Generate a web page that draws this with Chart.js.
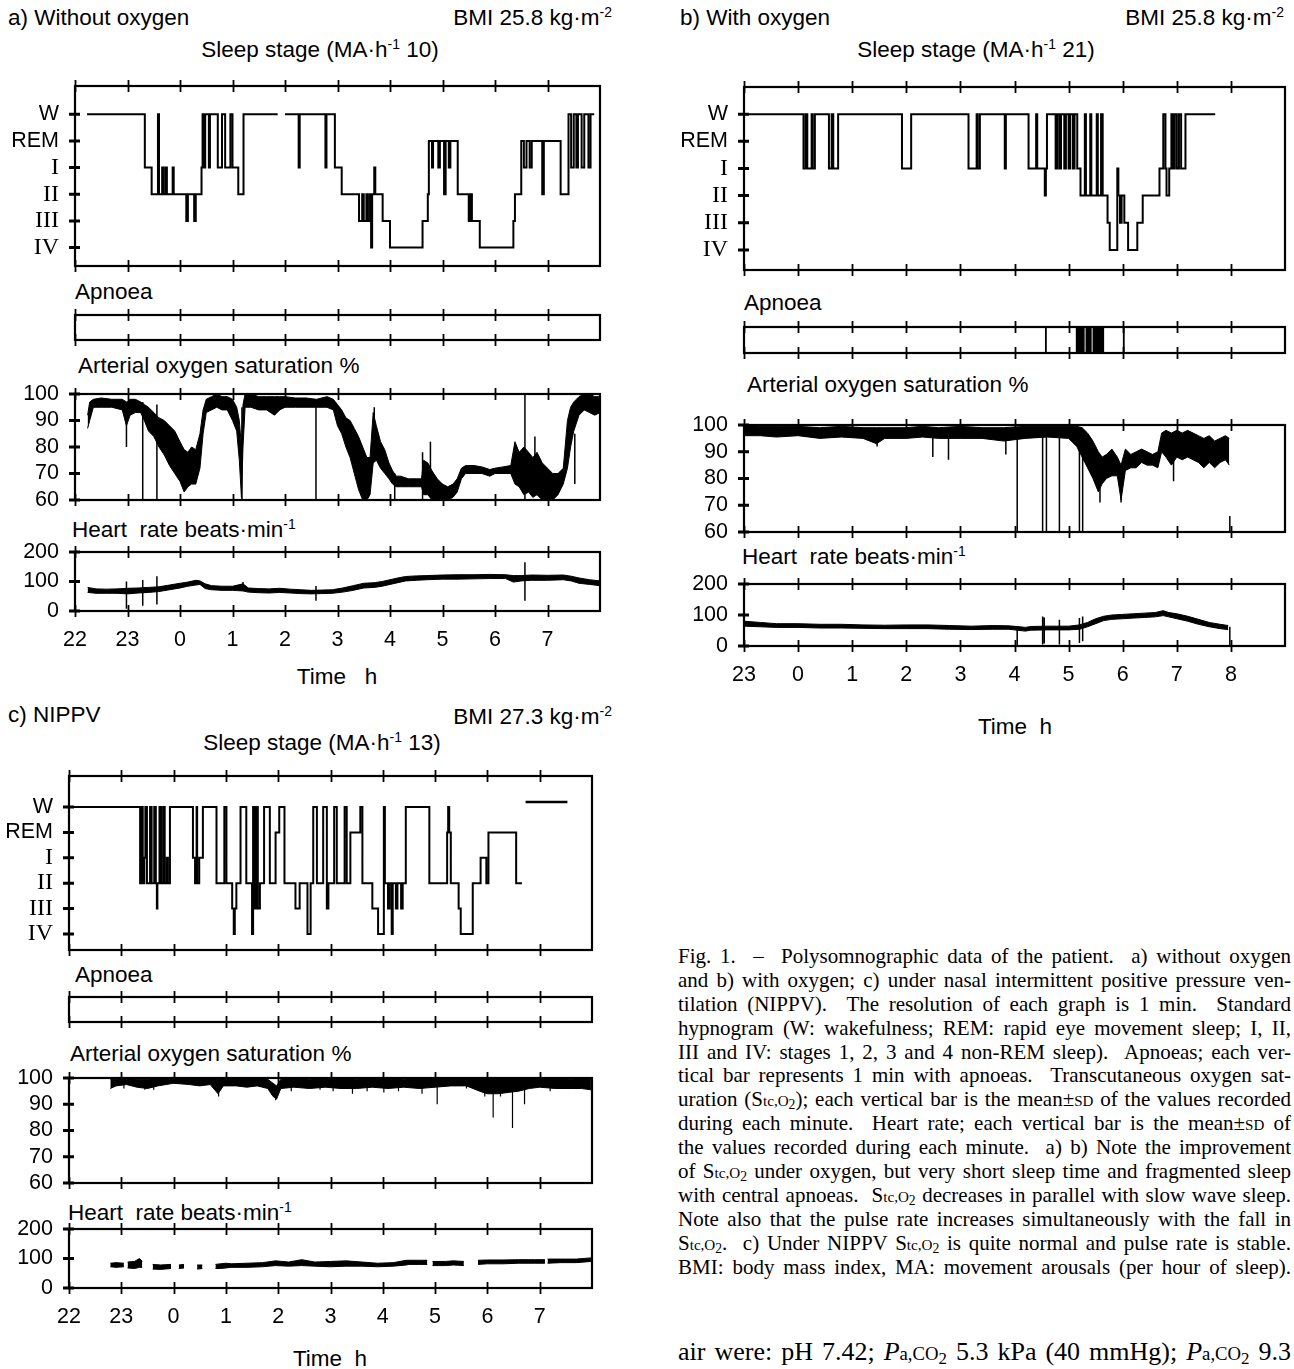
<!DOCTYPE html>
<html><head><meta charset="utf-8">
<script src="https://cdn.jsdelivr.net/npm/chart.js@4.4.1/dist/chart.umd.min.js"></script>
<style>
html,body{margin:0;padding:0;background:#fff;}
#page{position:relative;width:1294px;height:1369px;overflow:hidden;font-family:"Liberation Sans",Arial,sans-serif;color:#000;}
.t{position:absolute;white-space:nowrap;font-size:22.5px;line-height:26px;}
.t sup{font-size:0.62em;vertical-align:0.6em;line-height:0;}
.c{transform:translateX(-50%);}
canvas{position:absolute;}
.cap{position:absolute;left:678px;top:945px;width:613px;font-family:"Liberation Serif","Times New Roman",serif;font-size:21px;}
.ln{white-space:nowrap;height:23.9px;line-height:23.9px;width:613px;}
.sm{font-size:72%;}
.sc{font-variant:small-caps;}
.cap sub,.air sub{font-size:65%;vertical-align:-0.25em;line-height:0;}
.air{position:absolute;left:678px;top:1337px;width:613px;font-family:"Liberation Serif","Times New Roman",serif;font-size:26px;line-height:30px;white-space:nowrap;}
</style></head>
<body><div id="page">
<!-- panel a -->
<div class="t" style="left:8px;top:5px">a) Without oxygen</div>
<div class="t" style="right:682px;top:5px">BMI 25.8 kg·m<sup>-2</sup></div>
<div class="t c" style="left:320px;top:37px">Sleep stage (MA·h<sup>-1</sup> 10)</div>
<div class="t" style="left:75px;top:279px">Apnoea</div>
<div class="t" style="left:78px;top:353px">Arterial oxygen saturation %</div>
<div class="t" style="left:72px;top:517px">Heart&nbsp; rate beats·min<sup>-1</sup></div>
<div class="t c" style="left:337px;top:664px">Time&nbsp;&nbsp; h</div>
<!-- panel b -->
<div class="t" style="left:680px;top:5px">b) With oxygen</div>
<div class="t" style="right:10px;top:5px">BMI 25.8 kg·m<sup>-2</sup></div>
<div class="t c" style="left:976px;top:37px">Sleep stage (MA·h<sup>-1</sup> 21)</div>
<div class="t" style="left:744px;top:290px">Apnoea</div>
<div class="t" style="left:747px;top:372px">Arterial oxygen saturation %</div>
<div class="t" style="left:742px;top:544px">Heart&nbsp; rate beats·min<sup>-1</sup></div>
<div class="t c" style="left:1015px;top:714px">Time&nbsp; h</div>
<!-- panel c -->
<div class="t" style="left:8px;top:702px">c) NIPPV</div>
<div class="t" style="right:682px;top:704px">BMI 27.3 kg·m<sup>-2</sup></div>
<div class="t c" style="left:322px;top:730px">Sleep stage (MA·h<sup>-1</sup> 13)</div>
<div class="t" style="left:75px;top:962px">Apnoea</div>
<div class="t" style="left:70px;top:1041px">Arterial oxygen saturation %</div>
<div class="t" style="left:68px;top:1200px">Heart&nbsp; rate beats·min<sup>-1</sup></div>
<div class="t c" style="left:330px;top:1346px">Time&nbsp; h</div>

<div class="cap">
<div class="ln"><span>Fig. 1. &nbsp;– &nbsp;Polysomnographic data of the patient. &nbsp;a) without oxygen</span></div>
<div class="ln"><span>and b) with oxygen; c) under nasal intermittent positive pressure ven-</span></div>
<div class="ln"><span>tilation (NIPPV). &nbsp;The resolution of each graph is 1 min. &nbsp;Standard</span></div>
<div class="ln"><span>hypnogram (W: wakefulness; REM: rapid eye movement sleep; I, II,</span></div>
<div class="ln"><span>III and IV: stages 1, 2, 3 and 4 non-REM sleep). &nbsp;Apnoeas; each ver-</span></div>
<div class="ln"><span>tical bar represents 1 min with apnoeas. &nbsp;Transcutaneous oxygen sat-</span></div>
<div class="ln"><span>uration (S<span class="sm">tc,O</span><sub>2</sub>); each vertical bar is the mean±<span class="sc">sd</span> of the values recorded</span></div>
<div class="ln"><span>during each minute. &nbsp;Heart rate; each vertical bar is the mean±<span class="sc">sd</span> of</span></div>
<div class="ln"><span>the values recorded during each minute. &nbsp;a) b) Note the improvement</span></div>
<div class="ln"><span>of S<span class="sm">tc,O</span><sub>2</sub> under oxygen, but very short sleep time and fragmented sleep</span></div>
<div class="ln"><span>with central apnoeas. &nbsp;S<span class="sm">tc,O</span><sub>2</sub> decreases in parallel with slow wave sleep.</span></div>
<div class="ln"><span>Note also that the pulse rate increases simultaneously with the fall in</span></div>
<div class="ln"><span>S<span class="sm">tc,O</span><sub>2</sub>. &nbsp;c) Under NIPPV S<span class="sm">tc,O</span><sub>2</sub> is quite normal and pulse rate is stable.</span></div>
<div class="ln"><span>BMI: body mass index, MA: movement arousals (per hour of sleep).</span></div>
</div>
<div class="air"><span class="ln2">air were: pH 7.42; <i>P</i><span class="sm">a,CO</span><sub>2</sub> 5.3 kPa (40 mmHg); <i>P</i><span class="sm">a,CO</span><sub>2</sub> 9.3</span></div>
</div>

<script>
// ---------- DATA (hours; 24 = midnight, 25 = 1 h, ...) ----------
const stageLabels = ['IV','III','II','I','REM','W'];   // stage value 0..5
const xTickLabelsAC = ['22','23','0','1','2','3','4','5','6','7'];
const xTickLabelsB  = ['23','0','1','2','3','4','5','6','7','8'];

// a) without oxygen
const hypA_t = [22.23,23.33,23.46,23.58,23.60,23.66,23.69,23.73,23.75,23.86,23.88,24.12,24.15,24.27,24.30,24.41,24.43,24.46,24.48,24.55,24.57,24.72,24.80,24.86,24.96,25.00,25.11,25.21,25.86,25.87,26.00,26.26,26.28,26.77,26.79,26.95,27.08,27.41,27.47,27.50,27.55,27.58,27.62,27.64,27.66,27.70,27.72,27.86,28.00,28.62,28.72,28.74,28.80,28.82,28.92,28.95,29.03,29.06,29.12,29.15,29.29,29.50,29.53,29.56,29.71,30.35,30.38,30.50,30.55,30.60,30.66,30.70,30.90,30.93,31.25,31.40,31.45,31.50,31.55,31.58,31.65,31.70,31.78,31.82,31.89];
const hypA_stage = [5,3,2,5,2,3,2,3,2,3,2,1,2,1,2,3,5,3,5,3,5,3,5,3,5,3,2,5,5,null,5,3,5,3,5,3,2,1,2,1,2,1,2,0,2,3,2,1,0,1,2,4,3,4,3,4,2,4,3,4,2,1,2,1,0,1,2,4,3,4,3,4,2,4,2,5,3,5,3,5,3,5,3,5,5];

const spoA_t = [22.24,22.28,22.35,22.5,22.7,22.9,22.98,23.05,23.15,23.25,23.32,23.4,23.5,23.6,23.7,23.8,23.9,24.0,24.08,24.15,24.22,24.3,24.38,24.44,24.5,24.6,24.7,24.8,24.9,25.0,25.08,25.13,25.17,25.2,25.24,25.35,25.5,25.65,25.8,25.9,26.0,26.2,26.4,26.6,26.8,26.92,27.0,27.08,27.16,27.24,27.32,27.4,27.48,27.56,27.62,27.68,27.74,27.82,27.9,27.98,28.05,28.12,28.2,28.35,28.5,28.6,28.64,28.72,28.8,28.9,29.0,29.1,29.2,29.28,29.36,29.44,29.6,29.75,29.9,30.0,30.15,30.3,30.38,30.46,30.55,30.64,30.72,30.8,30.9,31.0,31.1,31.2,31.3,31.38,31.44,31.5,31.6,31.7,31.8,31.9,32.0];
const spoA_lo = [87,90,95,95,95,94,88,92,93,93,90,86,84,80,77,73,70,67,63,65,66,66,72,85,93,94,95,94,94,90,86,75,61,80,95,95,94,94,92,94,95,95,95,95,95,94,88,85,80,76,70,64,60,60,62,74,75,72,70,68,66,65,65,65,65,65,62,62,60,60,60,60,61,63,68,70,70,70,69,70,70,70,66,65,62,63,61,62,60,60,60,62,66,72,80,86,92,94,93,92,93];
const spoA_hi = [92,97,98,98.5,98,98,97,98,98,97,96,95,93,91,90,88,86,82,79,78,80,79,85,94,98,99,100,99,99,98,95,90,80,96,100,100,99,99,99,99,99,98.5,98.5,98,99,98,96,94,91,90,87,84,80,76,76,93,88,82,79,74,71,69,69,68,68,68,75,74,71,68,66,65,66,68,72,73,73,72.5,71.5,72,72.5,73,82,78,80,78,76,78,74,72,70,70,72,90,95,97,99,100,100,99,99];
const spoA_spike_t  = [22.98,23.29,23.56,25.18,26.59,27.70,28.09,28.62,28.77,30.57,30.76,31.52];
const spoA_spike_lo = [80,60,60,60,60,75,60,60,62,60,62,66];
const spoA_spike_hi = [97,97,96,95,97,95,70,78,82,100,84,85];

const hrA_t  = [22.24,22.4,22.6,22.8,23.0,23.2,23.4,23.6,23.8,24.0,24.15,24.3,24.38,24.48,24.6,24.8,25.0,25.2,25.3,25.5,25.7,25.9,26.1,26.3,26.5,26.7,26.9,27.1,27.3,27.5,27.7,27.85,28.0,28.15,28.3,28.5,28.7,29.0,29.3,29.6,29.9,30.2,30.35,30.5,30.7,31.0,31.3,31.45,31.6,31.8,32.0];
const hrA_lo = [63,60,60,60,58,61,63,66,72,78,84,88,90,76,72,70,70,68,64,62,61,63,61,59,58,59,60,64,70,78,80,84,90,96,102,104,106,108,108,109,110,110,98,102,104,104,106,102,94,90,86];
const hrA_hi = [80,75,74,75,77,78,80,82,88,94,98,104,102,92,86,84,84,92,78,76,75,77,74,72,70,71,72,78,86,94,96,100,106,112,117,119,120,122,123,123,124,123,120,120,122,121,122,118,112,106,102];
const hrA_spike_t  = [22.98,23.29,23.56,25.2,26.59,30.57];
const hrA_spike_lo = [8,18,22,78,35,35];
const hrA_spike_hi = [100,105,118,98,85,165];

// b) with oxygen
const hypB_t = [23.00,24.10,24.14,24.17,24.25,24.27,24.31,24.57,24.62,24.65,24.74,25.92,26.09,27.15,27.30,27.32,27.36,27.82,27.84,28.26,28.40,28.42,28.56,28.58,28.60,28.76,28.79,28.83,28.86,28.92,28.95,29.00,29.03,29.08,29.11,29.16,29.22,29.30,29.32,29.40,29.42,29.52,29.54,29.60,29.63,29.72,29.76,29.90,29.92,29.95,29.98,30.03,30.10,30.27,30.37,30.68,30.75,30.79,30.81,30.86,30.90,30.93,30.96,31.00,31.04,31.08,31.16,31.71];
const hypB_stage = [5,3,5,3,5,3,5, 3,5,3,5, 3,5, 3,5,3,5, 3,5, 3,5,3, 2,3,5, 3,5,3,5,3,5,3,5,3,5, 3,2, 5,2,5,2,5,2,5,2, 1,0,3,2,1,2,1,0,1,2, 3,5,3,2,3,5,3,5,3,5,3,5,5];
const apnB_t = [28.58,29.15,29.17,29.19,29.21,29.24,29.26,29.28,29.33,29.35,29.37,29.39,29.41,29.46,29.48,29.50,29.52,29.54,29.56,29.58,29.60,29.62,29.64,30.02];

const spoB_t  = [23.0,23.3,23.6,24.0,24.4,24.8,25.2,25.45,25.6,26.0,26.3,26.6,27.0,27.4,27.8,28.2,28.6,29.0,29.15,29.25,29.35,29.45,29.55,29.62,29.7,29.8,29.9,29.97,30.05,30.15,30.25,30.35,30.45,30.55,30.65,30.72,30.8,30.9,31.0,31.1,31.2,31.3,31.4,31.5,31.6,31.7,31.8,31.9,31.97];
const spoB_lo = [96,96,95.5,96,95,95.5,95,93,95,95,95.5,95,95,95,94,95,95.5,95,92,88,84,80,75,78,80,81,81,72,83,84,84,86,85,85,84,90,88,85,88,87,88,87,86,84,86,84,86,87,85];
const spoB_hi = [100,99.5,99.5,99.5,99,99.5,99,99,99,99,99.5,99,99.5,99,99,99.5,99.5,99.5,99.5,99,97,94,90,88,89,91,88,85,91,89,90,91,90,89,90,97,98,97,98,97,98,97,96,95,96,94,95,96,95];
const spoB_spike_t  = [25.46,26.49,26.78,27.84,28.05,28.52,28.59,28.83,29.20,29.26,29.58,29.97,30.94,31.98];
const spoB_spike_lo = [92,88,87,89,60,60,60,60,60,60,71,71,79,60];
const spoB_spike_hi = [97,97,97,97,98,98,98,98,98,97,85,85,95,66];

const hrB_t  = [23.0,23.3,23.6,24.0,24.4,24.8,25.2,25.6,26.0,26.4,26.8,27.2,27.6,27.9,28.1,28.2,28.3,28.6,29.0,29.2,29.35,29.5,29.65,29.8,30.0,30.2,30.4,30.6,30.75,30.85,31.0,31.2,31.4,31.6,31.8,31.95];
const hrB_lo = [64,62,60,60,58,58,57,56,56,56,54,53,54,54,50,48,51,52,52,54,62,72,82,86,88,90,92,94,98,94,88,80,70,62,56,53];
const hrB_hi = [80,76,72,72,70,70,68,67,68,68,66,64,66,65,62,60,63,64,64,68,76,88,96,100,102,104,106,108,114,108,104,96,86,76,70,66];
const hrB_spike_t  = [28.05,28.52,28.55,28.83,29.20,29.26,31.98];
const hrB_spike_lo = [2,5,8,5,10,15,0];
const hrB_spike_hi = [60,95,92,85,90,95,62];

// c) NIPPV
const hypC_t = [22.02,23.36,23.39,23.41,23.44,23.46,23.49,23.55,23.58,23.63,23.66,23.68,23.69,23.73,23.76,23.80,23.83,23.87,23.89,23.93,24.37,24.41,24.44,24.45,24.49,24.56,24.82,24.97,25.01,25.12,25.15,25.17,25.20,25.28,25.39,25.50,25.52,25.55,25.58,25.61,25.65,25.73,25.84,25.95,26.02,26.12,26.33,26.41,26.56,26.62,26.67,26.74,26.86,26.93,26.96,27.07,27.12,27.27,27.31,27.38,27.57,27.61,27.80,27.91,28.02,28.04,28.10,28.13,28.17,28.19,28.25,28.28,28.35,28.38,28.44,28.89,29.23,29.25,29.27,29.30,29.45,29.49,29.72,29.87,29.98,30.02,30.55,30.66];
const hypC_stage = [5,2,5,2,3,5,2,5,2,5,2,1,2,5,2,5,2,3,2,5,3,2,5,2,3,5,2,5,2,1,0,1,2,5,2,0,5,1,5,1,2,5,2,4,5,2,1,2,0,2,5,2,5,1,2,5,2,5,2,4,5,2,1,0,5,2,1,2,0,2,1,2,1,2,5,2,4,5,4,2,1,0,2,3,2,4,2,2];
const hypC_mark_t = [30.73,31.53];
const hypC_mark_v = [5.2,5.2];

const spoC_t  = [22.79,22.9,23.1,23.3,23.5,23.7,24.0,24.3,24.5,24.7,24.85,24.95,25.2,25.4,25.6,25.8,25.9,25.97,26.05,26.3,26.6,26.9,27.2,27.5,27.8,28.1,28.4,28.7,29.0,29.3,29.6,29.85,30.0,30.2,30.4,30.6,30.8,31.0,31.3,31.6,31.8,31.98];
const spoC_lo = [96,97,97.5,96.5,96,97,98,97.5,97,97.5,94,97,97,96.5,97,96,93,92,96,96.5,96,96.5,96,96,96.5,96,96.5,96,96.5,97,97,95,94,94,94.5,95,96,96.5,96,96,96,95.5];
const spoC_hi = [99.5,99.5,99.8,99.5,99.5,99.8,100,100,99.8,100,99.5,100,100,100,100,99.5,98,97,99.5,100,99.5,100,100,99.5,100,100,99.5,100,100,100,100,100,100,100,100,100,100,100,100,99.5,99.8,99.5];
const spoC_spike_t  = [23.05,23.45,23.62,24.86,25.95,26.25,26.8,27.05,27.42,27.7,28.02,28.3,28.75,29.04,29.6,29.95,30.11,30.25,30.48,30.71,31.2];
const spoC_spike_lo = [96,95.5,95.5,93,91.5,95,95.5,95,94,95,94.5,95,94,90,96,93,85,93,81,90,95];
const spoC_spike_hi = [99,99,99,99,97,99,99,99,99,99,99,99,99,99,99,99,99,99,99,99,99];

const hrC_t  = [22.79,22.9,23.05,23.06,23.12,23.25,23.35,23.4,23.41,23.6,23.75,23.95,23.96,24.1,24.2,24.21,24.45,24.55,24.56,24.8,24.9,25.0,25.1,25.4,25.7,25.95,26.2,26.45,26.7,27.0,27.3,27.6,27.9,28.2,28.45,28.5,28.7,28.85,28.9,28.95,29.2,29.35,29.55,29.6,29.82,30.0,30.3,30.6,30.9,31.1,31.12,31.15,31.4,31.7,31.98];
const hrC_lo = [72,70,72,null,68,66,70,70,null,64,63,66,null,66,68,null,64,66,null,66,66,68,70,70,72,76,74,76,74,72,74,74,72,74,78,80,80,80,null,76,76,78,76,null,80,82,82,84,84,84,null,84,86,86,90];
const hrC_hi = [84,86,84,null,88,90,100,90,null,80,78,80,null,78,80,null,78,78,null,80,82,84,82,84,86,92,88,96,88,90,92,88,84,86,94,94,94,94,null,90,90,92,90,null,94,95,95,96,96,96,null,98,98,98,102];

// ---------- helpers ----------
const page = document.getElementById('page');
const tickSans = {family:'"Liberation Sans", Arial, sans-serif', size:21.5};
const tickSerif = {family:'"Liberation Serif","Times New Roman",serif', size:24};

const pts = (t, v) => t.map((x, i) => ({x, y: v[i]}));
const segs = (t, lo, hi) => t.flatMap((x, i) => [{x, y: lo[i]}, {x, y: hi[i]}, {x, y: null}]);

const boxPlugin = {
  id: 'box',
  afterDraw(chart, args, o) {
    const {ctx, chartArea: a, scales} = chart;
    const xs = scales.x, ys = scales.y;
    ctx.save();
    ctx.strokeStyle = '#000';
    ctx.lineWidth = 2.2;
    ctx.strokeRect(a.left, a.top, a.right - a.left, a.bottom - a.top);
    ctx.lineWidth = 1.8;
    ctx.beginPath();
    xs.ticks.forEach(t => {
      if (t.value >= xs.max - 0.01) return;
      const px = Math.round(xs.getPixelForValue(t.value)) + 0.5;
      ctx.moveTo(px, a.top - 6); ctx.lineTo(px, a.top + 6);
      ctx.moveTo(px, a.bottom - 6); ctx.lineTo(px, a.bottom + 6);
    });
    ctx.stroke();
    if (o.yTicks) {
      ctx.lineWidth = 3;
      ctx.beginPath();
      ys.ticks.forEach(t => {
        const py = ys.getPixelForValue(t.value);
        ctx.moveTo(a.left - 6, py); ctx.lineTo(a.left + 5, py);
      });
      ctx.stroke();
    }
    ctx.restore();
  }
};

function makeChart(box, yOpt, datasets, xOpt) {
  const L = box.L, T = 10, R = 10, B = xOpt.labels ? 50 : 10;
  const W = box.w + L + R, H = box.h + T + B;
  const cv = document.createElement('canvas');
  cv.width = W; cv.height = H;
  cv.style.left = (box.x - L) + 'px'; cv.style.top = (box.y - T) + 'px';
  cv.style.width = W + 'px'; cv.style.height = H + 'px';
  page.appendChild(cv);
  const xmin = xOpt.min;
  const yScale = {
    type: 'linear', min: yOpt.min, max: yOpt.max,
    afterFit: s => { s.width = L; s.paddingTop = 0; s.paddingBottom = 0; },
    border: {display: false}, grid: {display: false, drawTicks: false},
    ticks: {display: !!yOpt.show, padding: 16, color: '#000', stepSize: yOpt.step, autoSkip: false,
            font: yOpt.fontFn || tickSans, callback: yOpt.cb || (v => String(v))}
  };
  if (yOpt.buildTicks) yScale.afterBuildTicks = yOpt.buildTicks;
  return new Chart(cv, {
    type: 'line',
    data: {datasets},
    options: {
      responsive: false, animation: false, devicePixelRatio: 1, events: [],
      layout: {padding: {top: T, right: R, left: 0, bottom: 0}},
      elements: {point: {radius: 0}, line: {tension: 0, borderCapStyle: 'butt'}},
      plugins: {legend: {display: false}, tooltip: {enabled: false}, box: {yTicks: !!yOpt.show}},
      scales: {
        x: {type: 'linear', min: xmin, max: xOpt.max,
            afterFit: s => { s.height = B; s.paddingLeft = 0; s.paddingRight = 0; },
            border: {display: false}, grid: {display: false, drawTicks: false},
            ticks: {display: !!xOpt.labels, stepSize: 1, autoSkip: false, maxRotation: 0, padding: 16,
                    color: '#000', font: tickSans,
                    callback: v => (xOpt.labels ? (xOpt.labels[Math.round(v - xmin)] ?? '') : '')}},
        y: yScale
      }
    },
    plugins: [boxPlugin]
  });
}

const black = '#000';
const stepLine = (t, v, w) => ({data: pts(t, v), stepped: true, borderColor: black, borderWidth: w || 2, pointRadius: 0, fill: false, spanGaps: false});
const bandLo = (t, v) => ({data: pts(t, v), borderColor: black, borderWidth: 1, pointRadius: 0, fill: false, spanGaps: false});
const bandHi = (t, v) => ({data: pts(t, v), borderColor: black, borderWidth: 1, backgroundColor: black, pointRadius: 0, fill: '-1', spanGaps: false});
const spikes = (t, lo, hi, w) => ({data: segs(t, lo, hi), borderColor: black, borderWidth: w || 1.5, pointRadius: 0, fill: false, spanGaps: false});

const hypY = (min, max) => ({min, max, show: true,
  buildTicks: s => { s.ticks = stageLabels.map((l, i) => ({value: i})); },
  cb: v => stageLabels[v],
  fontFn: c => (c.tick && c.tick.value >= 4) ? tickSans : tickSerif});
const spoY = {min: 60, max: 100, step: 10, show: true};
const hrY = {min: 0, max: 200, step: 100, show: true};
const apnY = {min: 0, max: 1, show: false};

// panel a
const xa = {min: 22, max: 32};
makeChart({x:75, y:86, w:525, h:180, L:75}, hypY(-0.69, 6.06), [stepLine(hypA_t, hypA_stage)], xa);
makeChart({x:75, y:315, w:525, h:25, L:75}, apnY, [], xa);
makeChart({x:75, y:394, w:525, h:106, L:75}, spoY,
  [bandLo(spoA_t, spoA_lo), bandHi(spoA_t, spoA_hi), spikes(spoA_spike_t, spoA_spike_lo, spoA_spike_hi)], xa);
makeChart({x:75, y:552, w:525, h:59, L:75}, hrY,
  [bandLo(hrA_t, hrA_lo), bandHi(hrA_t, hrA_hi), spikes(hrA_spike_t, hrA_spike_lo, hrA_spike_hi)],
  {min: 22, max: 32, labels: xTickLabelsAC});

// panel b
const xb = {min: 23, max: 33};
makeChart({x:744, y:87, w:541, h:183, L:75}, hypY(-0.74, 6.0), [stepLine(hypB_t, hypB_stage)], xb);
makeChart({x:744, y:327, w:541, h:26, L:75}, apnY,
  [spikes(apnB_t, apnB_t.map(() => 0), apnB_t.map(() => 1), 1.8)], xb);
makeChart({x:744, y:425, w:541, h:107, L:75}, spoY,
  [bandLo(spoB_t, spoB_lo), bandHi(spoB_t, spoB_hi), spikes(spoB_spike_t, spoB_spike_lo, spoB_spike_hi)], xb);
makeChart({x:744, y:584, w:541, h:62, L:75}, hrY,
  [bandLo(hrB_t, hrB_lo), bandHi(hrB_t, hrB_hi), spikes(hrB_spike_t, hrB_spike_lo, hrB_spike_hi)],
  {min: 23, max: 33, labels: xTickLabelsB});

// panel c
const xc = {min: 22, max: 32};
makeChart({x:69, y:776, w:523, h:174, L:69}, hypY(-0.63, 6.22),
  [stepLine(hypC_t, hypC_stage), {data: pts(hypC_mark_t, hypC_mark_v), borderColor: black, borderWidth: 2.5, pointRadius: 0, fill: false}], xc);
makeChart({x:69, y:997, w:523, h:25, L:69}, apnY, [], xc);
makeChart({x:69, y:1078, w:523, h:105, L:69}, spoY,
  [bandLo(spoC_t, spoC_lo), bandHi(spoC_t, spoC_hi), spikes(spoC_spike_t, spoC_spike_lo, spoC_spike_hi, 1.2)], xc);
makeChart({x:69, y:1229, w:523, h:59, L:69}, hrY,
  [bandLo(hrC_t, hrC_lo), bandHi(hrC_t, hrC_hi)],
  {min: 22, max: 32, labels: xTickLabelsAC});

// justify caption lines to the column width
function justify(el, target) {
  const w = el.getBoundingClientRect().width;
  const n = (el.textContent.match(/[ \u00a0]/g) || []).length;
  if (w < target && n > 0) el.style.wordSpacing = ((target - w) / n) + 'px';
  else if (w > target) { el.style.display = 'inline-block'; el.style.transformOrigin = '0 0'; el.style.transform = 'scaleX(' + (target / w) + ')'; }
}
document.querySelectorAll('.ln > span').forEach(s => justify(s, 613));
justify(document.querySelector('.ln2'), 613);
</script>
</body></html>
